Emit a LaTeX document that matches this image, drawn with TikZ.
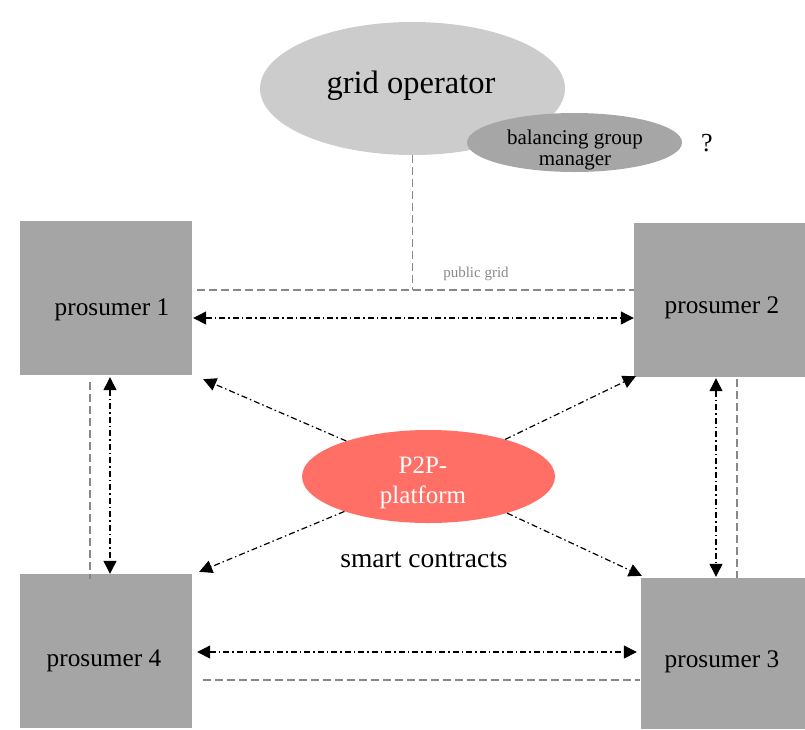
\documentclass[tikz,border=0pt]{standalone}
\usepackage{fontspec}
\setmainfont{Liberation Serif}
\usetikzlibrary{arrows.meta,shapes.geometric}

\definecolor{gridgray}{HTML}{CCCCCC}
\definecolor{bgmgray}{HTML}{A6A6A6}
\definecolor{boxgray}{HTML}{A5A5A5}
\definecolor{p2pred}{HTML}{FF6F66}
\definecolor{wiregray}{HTML}{888888}

\tikzset{
  prosumerbox/.style={rectangle, fill=boxgray, inner sep=0pt},
  blob/.style={ellipse, inner sep=0pt},
  lbl/.style={anchor=base, inner sep=0pt},
  flow/.style={draw=black, line width=1.2pt,
    dash pattern=on 6pt off 3pt on 1.5pt off 3pt,
    -{Triangle[length=13pt,width=13pt]}},
  flow2/.style={flow, {Triangle[length=13pt,width=13pt]}-{Triangle[length=13pt,width=13pt]}},
  wire/.style={draw=wiregray, line width=1.6pt, dash pattern=on 8pt off 4pt},
}

\begin{document}
\begin{tikzpicture}[x=1pt, y=-1pt]
\useasboundingbox (0,0) rectangle (805,729);

% network operator and balancing group manager
\node[blob, fill=gridgray, minimum width=305pt, minimum height=133pt] (go) at (412.5,88.5) {};
\node[lbl, font=\fontsize{32.5}{38}\selectfont] (gotxt) at (411,93) {grid operator};
\node[blob, fill=bgmgray, minimum width=215pt, minimum height=59pt] (bgm) at (574.5,142.5) {};
\node[align=center, inner sep=0pt, font=\fontsize{21}{21}\selectfont] (bgmtxt) at (575,150) {balancing group\\manager};
\node[lbl, font=\fontsize{26}{30}\selectfont] (q) at (707,151) {?};

% prosumers
\node[prosumerbox, minimum width=172pt, minimum height=154pt] (p1) at (106,298) {};
\node[prosumerbox, minimum width=171pt, minimum height=154pt] (p2) at (719.5,300) {};
\node[prosumerbox, minimum width=172pt, minimum height=154pt] (p4) at (106,651) {};
\node[prosumerbox, minimum width=164pt, minimum height=151pt] (p3) at (723,653.5) {};
\node[lbl, font=\fontsize{25.3}{30}\selectfont] at (112,315) {prosumer 1};
\node[lbl, font=\fontsize{25.3}{30}\selectfont] at (722,313) {prosumer 2};
\node[lbl, font=\fontsize{25.3}{30}\selectfont] at (722,667) {prosumer 3};
\node[lbl, font=\fontsize{25.3}{30}\selectfont] at (104,666) {prosumer 4};

% trading platform
\node[blob, fill=p2pred, minimum width=253pt, minimum height=93pt] (p2p) at (428.5,476.5) {};
\node[align=center, inner sep=0pt, text=white, font=\fontsize{25}{30}\selectfont] (p2ptxt) at (423,482.5) {P2P-\\platform};
\node[lbl, font=\fontsize{27.5}{32}\selectfont] (sc) at (424,567) {smart contracts};

% public grid wiring (behind the arrows)
\path ([yshift=10pt]p2.west) coordinate (gridR);
\path ([xshift=5pt,yshift=8pt]p1.east) coordinate (gridL);
\draw[wire] (gridL) -- (gridR);
\draw[wire] (go.south) -- (go.south |- gridR);
\node[lbl, text=wiregray, font=\fontsize{15}{17}\selectfont] (pg) at (476,277) {public grid};
\draw[wire] ([xshift=-16pt,yshift=-7pt]p1.south) -- ([xshift=-16pt,yshift=-5pt]p4.north);
\path ([xshift=17.5pt,yshift=-2pt]p2.south) coordinate (rwTop);
\draw[wire] (rwTop) -- (rwTop |- p3.north);
\draw[wire] ([xshift=11pt,yshift=-29pt]p4.east) -- ([xshift=-1pt,yshift=-26.5pt]p3.west);

% peer-to-peer energy flows
\draw[flow2] ([xshift=1pt,yshift=-20pt]p1.east) -- ([yshift=-18pt]p2.west);
\draw[flow2] ([xshift=5pt,yshift=-1pt]p4.east) -- ([xshift=-4pt,yshift=1.5pt]p3.west);
\draw[flow2] ([xshift=4pt,yshift=-2pt]p1.south) -- ([xshift=4pt,yshift=0pt]p4.north);
\draw[flow2] ([xshift=-3.5pt,yshift=-1pt]p2.south) -- ([xshift=-7pt,yshift=1pt]p3.north);

% platform links
\draw[flow] (p2p) -- ([xshift=11pt,yshift=-4pt]p1.south east);
\draw[flow] (p2p) -- ([xshift=2pt,yshift=1pt]p2.south west);
\draw[flow] (p2p) -- ([xshift=7pt,yshift=2pt]p4.north east);
\draw[flow] (p2p) -- ([xshift=1pt,yshift=2pt]p3.north west);
\end{tikzpicture}
\end{document}
